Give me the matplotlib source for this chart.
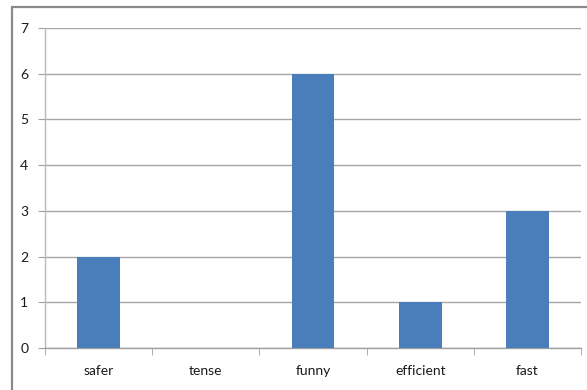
import matplotlib
matplotlib.use("Agg")
import matplotlib.pyplot as plt
from matplotlib.patches import Rectangle

categories = ["safer", "tense", "funny", "efficient", "fast"]
values = [2, 0, 6, 1, 3]
yticks = [0, 1, 2, 3, 4, 5, 6, 7]

plt.rcParams['font.family'] = ['Lato', 'DejaVu Sans']

W, H = 587, 390
fig = plt.figure(figsize=(W/100, H/100), dpi=100)
fig.patch.set_facecolor('white')

# outer chart border (left and top visible)
fig.add_artist(Rectangle((12/W, -0.05), 1.1, 1 - 7/H + 0.05, transform=fig.transFigure,
                         fill=False, edgecolor='#8a8a8a', linewidth=1.6))

ax = fig.add_axes([45/W, 1 - 348/H, (581 - 45)/W, (348 - 28)/H])
x = list(range(len(categories)))
ax.bar(x, values, width=0.4, color='#4a7ebb', zorder=3)
ax.set_xlim(-0.5, len(categories) - 0.5)
ax.set_ylim(0, 7)
ax.set_yticks(yticks)
ax.set_yticklabels([str(v) for v in yticks], fontsize=10, color='#1a1a1a')
ax.set_xticks(x)
ax.set_xticklabels(categories, fontsize=10, color='#1a1a1a')
ax.tick_params(axis='x', length=0, pad=12)
ax.tick_params(axis='y', length=5, color='#a0a0a0', pad=7)
ax.set_xticks([i - 0.5 for i in range(len(categories) + 1)], minor=True)
ax.tick_params(axis='x', which='minor', length=5, color='#a0a0a0')
ax.grid(axis='y', color='#a6a6a6', linewidth=1, zorder=0)
for s in ['top', 'right']:
    ax.spines[s].set_visible(False)
ax.spines['left'].set_color('#b8b8b8')
ax.spines['bottom'].set_color('#a0a0a0')
ax.spines['left'].set_linewidth(1)
ax.spines['bottom'].set_linewidth(1)

fig.savefig("out.png", dpi=100)
